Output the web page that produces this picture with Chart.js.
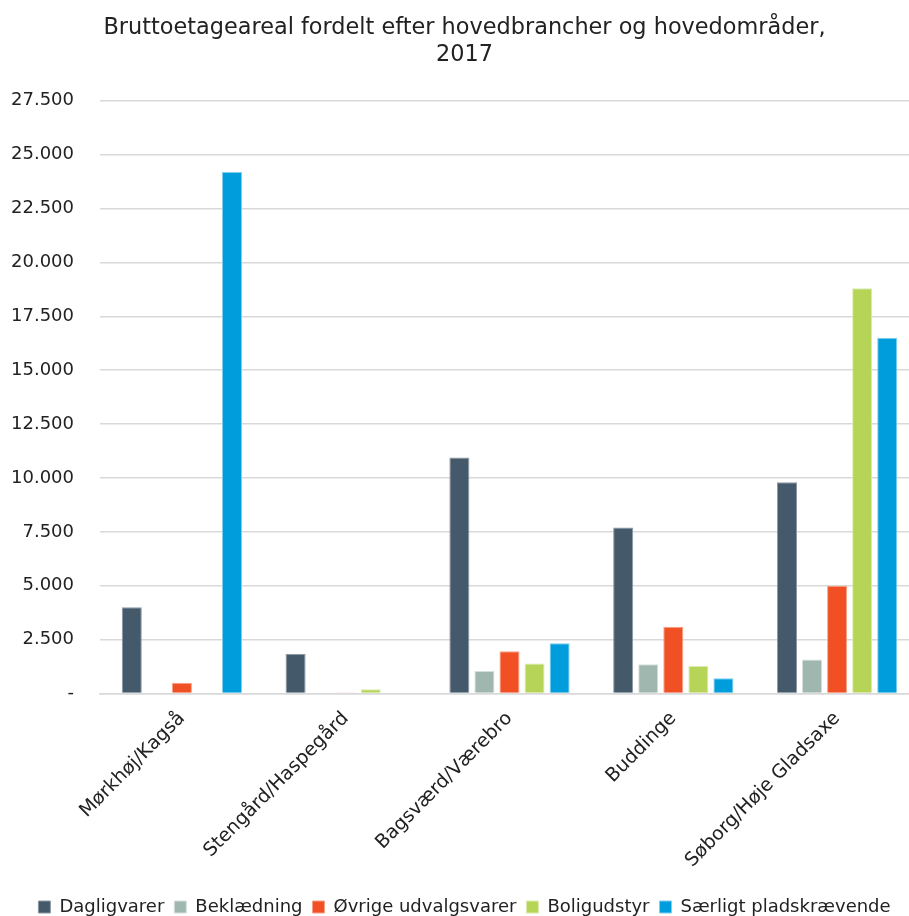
<!DOCTYPE html>
<html>
<head>
<meta charset="utf-8">
<script src="https://cdn.jsdelivr.net/npm/chart.js@4/dist/chart.umd.min.js"></script>
<style>
  html, body { margin: 0; padding: 0; background: #fff; overflow: hidden; }
  #wrap { width: 936px; height: 926px; }
</style>
</head>
<body>
<div id="wrap"><canvas id="grafica"></canvas></div>
<script>
// omraader og brancher
var omraader = ['Mørkhøj/Kagså', 'Stengård/Haspegård', 'Bagsværd/Værebro', 'Buddinge', 'Søborg/Høje Gladsaxe'];

var dagligvarer = [4000, 1850, 10950, 7700, 9800];
var beklaedning = [0, 0, 1050, 1360, 1580];
var oevrige = [500, 50, 1960, 3100, 5000];
var boligudstyr = [0, 200, 1390, 1280, 18800];
var saerligt = [24200, 0, 2330, 710, 16500];

var titel = ['Bruttoetageareal fordelt efter hovedbrancher og hovedområder,', '2017'];

var skrift = "'DejaVu Sans', Verdana, sans-serif";

function serie(navn, vaerdier, farve, kant) {
    return {
        label: navn,
        data: vaerdier,
        backgroundColor: farve,
        borderColor: kant,
        borderWidth: 1,
        barPercentage: 0.8,
        categoryPercentage: 0.765
    };
}

function formatTal(v) {
    if (v === 0) return '-';
    return String(v).replace(/\B(?=(\d{3})+(?!\d))/g, '.');
}

var data = {
    labels: omraader,
    datasets: [
        serie('Dagligvarer', dagligvarer, '#44596a', '#8a99a5'),
        serie('Beklædning', beklaedning, '#9fb7ae', '#d5e0dc'),
        serie('Øvrige udvalgsvarer', oevrige, '#f15024', '#f7a086'),
        serie('Boligudstyr', boligudstyr, '#b6d558', '#dcebb0'),
        serie('Særligt pladskrævende', saerligt, '#009ddc', '#7fcfee')
    ]
};

var config = {
    type: 'bar',
    data: data,
    options: {
        responsive: true,
        maintainAspectRatio: false,
        animation: false,
        layout: { padding: { left: 10, right: 17, top: 6, bottom: 0 } },
        plugins: {
            title: {
                display: true,
                text: titel,
                color: '#222',
                font: { family: skrift, size: 22.4, weight: 'normal', lineHeight: 1.2 },
                padding: { top: 9, bottom: 32 }
            },
            legend: {
                position: 'bottom',
                labels: {
                    boxWidth: 12,
                    boxHeight: 12,
                    padding: 10,
                    color: '#222',
                    font: { family: skrift, size: 18 }
                }
            },
            tooltip: { enabled: false }
        },
        scales: {
            y: {
                min: 0,
                max: 27500,
                ticks: {
                    stepSize: 2500,
                    color: '#222',
                    padding: 26,
                    font: { family: skrift, size: 18 },
                    callback: function (v) { return formatTal(v); }
                },
                grid: { color: '#d9d9d9', lineWidth: 1.5, drawTicks: false },
                border: { display: false },
                afterFit: function (akse) {
                    akse.width = 90;
                }
            },
            x: {
                ticks: {
                    minRotation: 45,
                    maxRotation: 45,
                    color: '#222',
                    padding: 6,
                    font: { family: skrift, size: 19 }
                },
                grid: { display: false },
                border: { color: '#d9d9d9', width: 1.5 },
                afterFit: function (akse) {
                    akse.paddingLeft = 0;
                    akse.height += 10;
                }
            }
        }
    }
};

var grafica = new Chart(document.getElementById('grafica'), config);
</script>
</body>
</html>
